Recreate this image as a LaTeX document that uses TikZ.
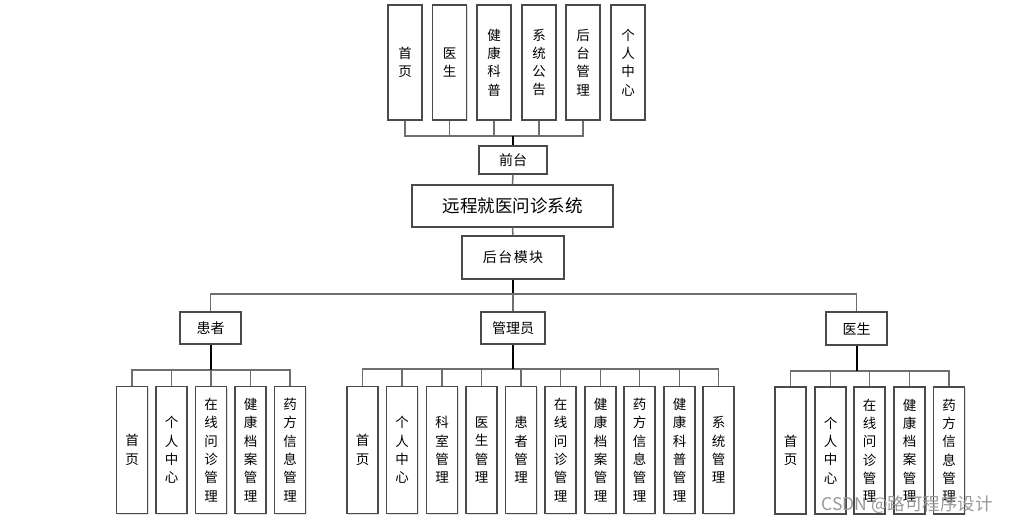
\documentclass[tikz,border=0pt]{standalone}
\usepackage{fontspec}
\setmainfont{Noto Sans CJK SC}
\usetikzlibrary{shadows}
\definecolor{boxc}{HTML}{4A4A4A}
\definecolor{linec}{HTML}{6E6E6E}
\tikzset{
  bx/.style={draw=boxc, line width=1.4pt, fill=white, inner sep=0pt, align=center,
     drop shadow={shadow xshift=1.2pt, shadow yshift=-1.2pt, fill=black!12, opacity=1}},
  topbox/.style={bx, minimum width=34pt, minimum height=115pt, font=\fontsize{13.5}{18.3}\selectfont},
  subbox/.style={bx, minimum width=31pt, minimum height=127pt, font=\fontsize{13.5}{18.3}\selectfont},
  midbox/.style={bx, font=\fontsize{14}{16}\selectfont},
  conn/.style={draw=linec, line width=1.5pt},
  trunk/.style={draw=black, line width=2pt},
}
\begin{document}
\begin{tikzpicture}[x=1pt,y=-1pt]
\useasboundingbox (0,0) rectangle (1018,524);
\fill[white] (0,0) rectangle (1018,524);

% coordinates for buses
\coordinate (tbus) at (513,136);
\coordinate (mbus) at (513,294);
\coordinate (pbus) at (210.5,370);
\coordinate (abus) at (513,369);
\coordinate (dbus) at (856.5,371);

% top row boxes
\node[topbox] (t1) at (405,62.5) {首\\页};
\node[topbox] (t2) at (449.5,62.5) {医\\生};
\node[topbox] (t3) at (494,62.5) {健\\康\\科\\普};
\node[topbox] (t4) at (539,62.5) {系\\统\\公\\告};
\node[topbox] (t5) at (583,62.5) {后\\台\\管\\理};
\node[topbox] (t6) at (628,62.5) {个\\人\\中\\心};

\node[midbox, minimum width=68pt, minimum height=28pt] (qt) at (513,160) {前台};
\node[bx, minimum width=201pt, minimum height=42pt, font=\fontsize{17.5}{20}\selectfont] (sys) at (512.5,206) {远程就医问诊系统};
\node[midbox, minimum width=102pt, minimum height=43pt] (ht) at (513,257.5) {后\hspace{1.5pt}台\hspace{1.5pt}模\hspace{1.5pt}块};

\node[midbox, minimum width=61pt, minimum height=32pt] (hz) at (210.5,328) {患者};
\node[midbox, minimum width=64pt, minimum height=32pt] (gl) at (513,328) {管理员};
\node[midbox, minimum width=61pt, minimum height=33pt] (ys) at (856.5,328.5) {医生};

% patient children
\node[subbox] (p1) at (132,450) {首\\页};
\node[subbox] (p2) at (171.5,450) {个\\人\\中\\心};
\node[subbox] (p3) at (211,450) {在\\线\\问\\诊\\管\\理};
\node[subbox] (p4) at (250.5,450) {健\\康\\档\\案\\管\\理};
\node[subbox] (p5) at (290,450) {药\\方\\信\\息\\管\\理};

% admin children
\node[subbox] (a1) at (362.5,450) {首\\页};
\node[subbox] (a2) at (402,450) {个\\人\\中\\心};
\node[subbox] (a3) at (442,450) {科\\室\\管\\理};
\node[subbox] (a4) at (481.5,450) {医\\生\\管\\理};
\node[subbox] (a5) at (521,450) {患\\者\\管\\理};
\node[subbox] (a6) at (560.5,450) {在\\线\\问\\诊\\管\\理};
\node[subbox] (a7) at (600.5,450) {健\\康\\档\\案\\管\\理};
\node[subbox] (a8) at (639.5,450) {药\\方\\信\\息\\管\\理};
\node[subbox] (a9) at (679.5,450) {健\\康\\科\\普\\管\\理};
\node[subbox] (a10) at (718.5,450) {系\\统\\管\\理};

% doctor children
\node[subbox] (d1) at (790.5,450.5) {首\\页};
\node[subbox] (d2) at (830.5,450.5) {个\\人\\中\\心};
\node[subbox] (d3) at (869.5,450.5) {在\\线\\问\\诊\\管\\理};
\node[subbox] (d4) at (909.5,450.5) {健\\康\\档\\案\\管\\理};
\node[subbox] (d5) at (949,450.5) {药\\方\\信\\息\\管\\理};

% connectors
\foreach \n in {t1,t2,t3,t4,t5} \draw[conn] (\n.south) |- (tbus);
\draw[trunk] (tbus) -- (qt.north);
\draw[conn] (qt.south) -- (sys.north);
\draw[conn] (sys.south) -- (ht.north);
\draw[trunk] (ht.south) -- (mbus);
\draw[conn] (hz.north) |- (mbus);
\draw[conn] (ys.north) |- (mbus);
\draw[conn] (mbus) -- (gl.north);

\foreach \n in {p1,p2,p3,p4,p5} \draw[conn] (\n.north) |- (pbus);
\draw[trunk] (hz.south) -- (pbus);
\foreach \n in {a1,a2,a3,a4,a5,a6,a7,a8,a9,a10} \draw[conn] (\n.north) |- (abus);
\draw[trunk] (gl.south) -- (abus);
\foreach \n in {d1,d2,d3,d4,d5} \draw[conn] (\n.north) |- (dbus);
\draw[trunk] (ys.south) -- (dbus);

% watermark
\node[text=black!40, font=\fontsize{17.5}{19}\selectfont, inner sep=0pt] (wm) at (907,505) {CSDN @路可程序设计};
\end{tikzpicture}
\end{document}
